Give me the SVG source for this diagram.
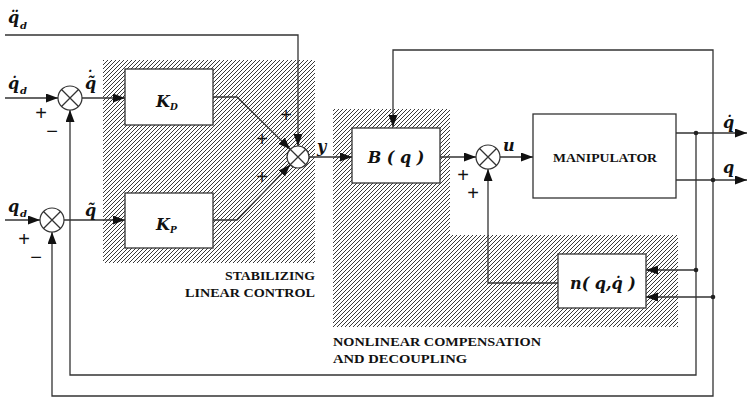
<svg xmlns="http://www.w3.org/2000/svg" width="748" height="398" viewBox="0 0 748 398">
<style>
.ln{fill:none;stroke:#333;stroke-width:1.3}
.bx{fill:#fff;stroke:#333;stroke-width:1.3}
.sj{fill:#fff;stroke:#333;stroke-width:1.2}
.m{font-family:"DejaVu Serif","Liberation Serif",serif;font-style:italic;font-weight:bold;fill:#111}
.sg{font-family:"Liberation Sans","DejaVu Sans",sans-serif;font-size:20px;fill:#111;text-anchor:middle}
.cap{font-family:"Liberation Serif","DejaVu Serif",serif;font-weight:bold;font-size:13px;fill:#111}
.dot{fill:#222}
</style>
<defs>
<pattern id="hatch" patternUnits="userSpaceOnUse" width="4" height="4">
<path d="M-1,1 L1,-1 M0,4 L4,0 M3,5 L5,3" stroke="#222" stroke-width="0.9"/>
</pattern>
<marker id="arr" markerUnits="userSpaceOnUse" markerWidth="13" markerHeight="10" refX="12" refY="4.5" orient="auto">
<path d="M0,0 L12,4.5 L0,9 z" fill="#111"/>
</marker>
</defs>
<rect width="748" height="398" fill="#fff"/>

<g id="regions">
<rect x="103" y="60" width="212" height="203" fill="url(#hatch)"/>
<path d="M333,109 H450 V235 H678 V327 H333 Z" fill="url(#hatch)"/>
</g>

<g id="connectors">
<path class="ln" d="M5,35 H298 V146" marker-end="url(#arr)"/>
<path class="ln" d="M5,98 H58" marker-end="url(#arr)"/>
<path class="ln" d="M82,98 H125" marker-end="url(#arr)"/>
<path class="ln" d="M213,97 H237 L290.2,149.2" marker-end="url(#arr)"/>
<path class="ln" d="M5,220 H40" marker-end="url(#arr)"/>
<path class="ln" d="M64,220 H125" marker-end="url(#arr)"/>
<path class="ln" d="M213,220 H237 L290.2,164.8" marker-end="url(#arr)"/>
<path class="ln" d="M309,157 H352" marker-end="url(#arr)"/>
<path class="ln" d="M440,157 H476" marker-end="url(#arr)"/>
<path class="ln" d="M500,157 H533" marker-end="url(#arr)"/>
<path class="ln" d="M676,133 H747" marker-end="url(#arr)"/>
<path class="ln" d="M676,180 H747" marker-end="url(#arr)"/>
<path class="ln" d="M696,133 V375 H70 V110" marker-end="url(#arr)"/>
<path class="ln" d="M696,270 H646" marker-end="url(#arr)"/>
<path class="ln" d="M713,180 V50 H393 V127" marker-end="url(#arr)"/>
<path class="ln" d="M713,180 V396 H52 V232" marker-end="url(#arr)"/>
<path class="ln" d="M713,297 H646" marker-end="url(#arr)"/>
<path class="ln" d="M558,283 H488 V169" marker-end="url(#arr)"/>
<circle class="dot" cx="696" cy="133" r="2.3"/>
<circle class="dot" cx="713" cy="180" r="2.3"/>
<circle class="dot" cx="696" cy="270" r="2.3"/>
<circle class="dot" cx="713" cy="297" r="2.3"/>
</g>

<g id="sum1">
<circle class="sj" cx="70" cy="98" r="12"/>
<path class="ln" d="M61.5,89.5 L78.5,106.5 M78.5,89.5 L61.5,106.5" stroke-width="1"/>
</g>
<g id="sum2">
<circle class="sj" cx="52" cy="220" r="12"/>
<path class="ln" d="M43.5,211.5 L60.5,228.5 M60.5,211.5 L43.5,228.5" stroke-width="1"/>
</g>
<g id="sum3">
<circle class="sj" cx="298" cy="157" r="11"/>
<path class="ln" d="M290.2,149.2 L305.8,164.8 M305.8,149.2 L290.2,164.8" stroke-width="1"/>
</g>
<g id="sum4">
<circle class="sj" cx="488" cy="157" r="12"/>
<path class="ln" d="M479.5,148.5 L496.5,165.5 M496.5,148.5 L479.5,165.5" stroke-width="1"/>
</g>

<g id="KD">
<rect class="bx" x="125" y="69" width="88" height="56"/>
<text class="m" x="156" y="107" font-size="16">K</text>
<text class="m" x="170" y="110" font-size="9">D</text>
</g>
<g id="KP">
<rect class="bx" x="125" y="193" width="88" height="55"/>
<text class="m" x="156" y="230" font-size="16">K</text>
<text class="m" x="170" y="233" font-size="9">P</text>
</g>
<g id="Bq">
<rect class="bx" x="352" y="128" width="88" height="55"/>
<text class="m" x="396" y="163" font-size="16" text-anchor="middle">B ( q )</text>
</g>
<g id="manipulator">
<rect class="bx" x="533" y="114" width="143" height="84"/>
<text class="cap" x="605" y="162" font-size="12" text-anchor="middle" textLength="104" lengthAdjust="spacingAndGlyphs">MANIPULATOR</text>
</g>
<g id="nqq">
<rect class="bx" x="558" y="254" width="88" height="54"/>
<text class="m" x="603" y="289" font-size="16" text-anchor="middle">n( q,q̇ )</text>
</g>

<g id="labels">
<text class="m" x="8" y="23" font-size="16">q̈</text>
<text class="m" x="20" y="29" font-size="10">d</text>

<text class="m" x="8" y="89" font-size="16">q̇</text>
<text class="m" x="20" y="94" font-size="10">d</text>

<text class="m" x="8" y="212" font-size="16">q</text>
<text class="m" x="20" y="217" font-size="10">d</text>

<text class="m" x="85" y="89" font-size="16">q̃<tspan x="85" y="83">˙</tspan></text>
<text class="m" x="85" y="216" font-size="16">q̃</text>

<text class="m" x="317" y="152" font-size="16">y</text>
<text class="m" x="503" y="151" font-size="16">u</text>
<text class="m" x="723" y="128" font-size="16">q̇</text>
<text class="m" x="723" y="173" font-size="16">q</text>

<text class="sg" x="41" y="120">+</text>
<text class="sg" x="52" y="138">−</text>
<text class="sg" x="24" y="246">+</text>
<text class="sg" x="36" y="264">−</text>
<text class="sg" x="286" y="122">+</text>
<text class="sg" x="262" y="146">+</text>
<text class="sg" x="262" y="184">+</text>
<text class="sg" x="463" y="182">+</text>
<text class="sg" x="473" y="200">+</text>

<text class="cap" x="315" y="280" text-anchor="end" textLength="90" lengthAdjust="spacingAndGlyphs">STABILIZING</text>
<text class="cap" x="315" y="297" text-anchor="end" textLength="130" lengthAdjust="spacingAndGlyphs">LINEAR  CONTROL</text>
<text class="cap" x="333" y="346" textLength="208" lengthAdjust="spacingAndGlyphs">NONLINEAR  COMPENSATION</text>
<text class="cap" x="333" y="363" textLength="134" lengthAdjust="spacingAndGlyphs">AND  DECOUPLING</text>
</g>
</svg>
